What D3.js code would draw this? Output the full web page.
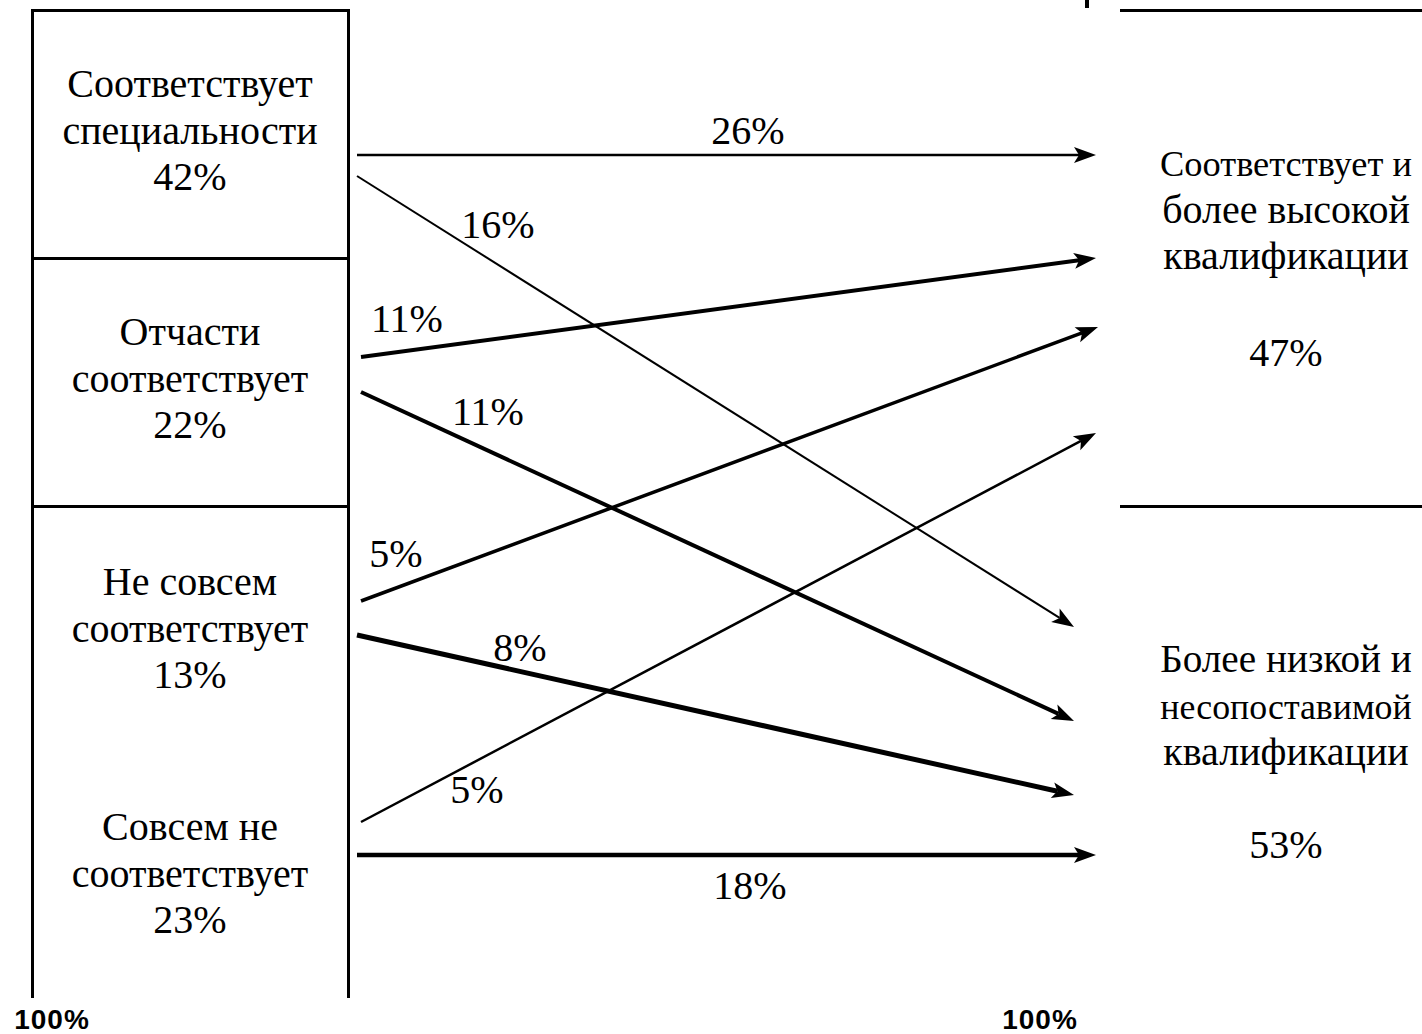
<!DOCTYPE html>
<html>
<head>
<meta charset="utf-8">
<script src="https://cdn.jsdelivr.net/npm/d3@7"></script>
<style>
  html, body { margin: 0; padding: 0; background: #fff; }
  svg { display: block; }
  text { font-family: "Liberation Serif", "Times New Roman", serif; fill: #000; }
</style>
</head>
<body>
<script>
// ---------------- DATA ----------------
const sourceLabels = [
  ["Соответствует", "специальности"],
  ["Отчасти", "соответствует"],
  ["Не совсем", "соответствует"],
  ["Совсем не", "соответствует"]
];
const sourceShares = [42, 22, 13, 23];

const targetLabels = [
  ["Соответствует и", "более высокой", "квалификации"],
  ["Более низкой и", "несопоставимой", "квалификации"]
];
const targetShares = [47, 53];

// flows: source index, target index, percentage
const flowSource = [0, 0, 1, 1, 2, 2, 3, 3];
const flowTarget = [0, 1, 0, 1, 0, 1, 0, 1];
const flowValues = [26, 16, 11, 11, 5, 8, 5, 18];

const totalLabel = "100%";

// ---------------- LAYOUT ----------------
const W = 1422, H = 1034;
const flowIds = flowValues.map((d, i) => i);

// vertical slots of arrows (start / end), widths, label anchors
const yStart = d3.scaleOrdinal().domain(flowIds).range([155, 176, 357, 392, 601, 635, 822, 855]);
const yEnd   = d3.scaleOrdinal().domain(flowIds).range([155, 627, 258, 721, 327, 795, 433, 855]);
const xStart = d3.scaleOrdinal().domain(flowIds).range([357, 357, 361, 361, 361, 357, 361, 357]);
const xEnd   = d3.scaleOrdinal().domain(flowIds).range([1096, 1074, 1096, 1074, 1098, 1074, 1096, 1096]);
const strokeW = d3.scaleOrdinal().domain(flowIds).range([2.5, 2, 4, 4, 3.5, 5, 2.5, 4.5]);
const labelX = d3.scaleOrdinal().domain(flowIds).range([748, 498, 407, 488, 396, 520, 477, 750]);
const labelY = d3.scaleOrdinal().domain(flowIds).range([144, 238, 332, 425, 567, 661, 803, 899]);

// left boxes
const boxLeft = 32, boxRight = 348, boxTop = 10, boxBottom = 998;
const boxDividers = [258, 506];
const srcCenterX = (boxLeft + boxRight) / 2;
const srcFirstBaseline = d3.scaleOrdinal().domain([0, 1, 2, 3]).range([97, 345, 595, 840]);
const lineStep = 46.5;

// right side
const tgtCenterX = 1286;
const tgtFirstBaseline = d3.scaleOrdinal().domain([0, 1]).range([176, 672]);
const tgtShareBaseline = d3.scaleOrdinal().domain([0, 1]).range([366, 858]);
const rightLines = [10, 506];
const rightMaxHalfWidth = W - 10 - tgtCenterX;

const svg = d3.select("body").append("svg")
  .attr("width", W).attr("height", H)
  .attr("viewBox", `0 0 ${W} ${H}`);

svg.append("rect").attr("width", W).attr("height", H).attr("fill", "#fff");

// ---- left box frame
const frame = svg.append("g").attr("stroke", "#000").attr("stroke-width", 3)
  .attr("shape-rendering", "crispEdges").attr("fill", "none");
frame.append("line").attr("x1", boxLeft).attr("x2", boxLeft).attr("y1", boxTop - 1.5).attr("y2", boxBottom);
frame.append("line").attr("x1", boxRight).attr("x2", boxRight).attr("y1", boxTop - 1.5).attr("y2", boxBottom);
frame.append("line").attr("x1", boxLeft).attr("x2", boxRight).attr("y1", boxTop).attr("y2", boxTop);
frame.selectAll("line.div").data(boxDividers).join("line").attr("class", "div")
  .attr("x1", boxLeft).attr("x2", boxRight).attr("y1", d => d).attr("y2", d => d);

// ---- right separators
frame.selectAll("line.rsep").data(rightLines).join("line").attr("class", "rsep")
  .attr("x1", 1120).attr("x2", W).attr("y1", d => d).attr("y2", d => d);
// little cut-off mark at top
svg.append("rect").attr("x", 1085).attr("y", 0).attr("width", 4).attr("height", 8).attr("fill", "#000");

// ---- source labels
sourceLabels.forEach((lines, i) => {
  const all = lines.concat([sourceShares[i] + "%"]);
  svg.append("g").selectAll("text").data(all).join("text")
    .attr("x", srcCenterX)
    .attr("y", (d, k) => srcFirstBaseline(i) + k * lineStep)
    .attr("text-anchor", "middle")
    .attr("font-size", 40)
    .text(d => d);
});

// ---- target labels (shrunk to stay inside the right edge)
targetLabels.forEach((lines, i) => {
  svg.append("g").selectAll("text").data(lines).join("text")
    .attr("x", tgtCenterX)
    .attr("y", (d, k) => tgtFirstBaseline(i) + k * lineStep)
    .attr("text-anchor", "middle")
    .attr("font-size", 40)
    .text(d => d)
    .each(function () {
      const w = this.getComputedTextLength();
      if (w / 2 > rightMaxHalfWidth) {
        d3.select(this).attr("font-size", Math.floor(40 * (rightMaxHalfWidth * 2) / w * 10) / 10);
      }
    });
  svg.append("text")
    .attr("x", tgtCenterX)
    .attr("y", tgtShareBaseline(i))
    .attr("text-anchor", "middle")
    .attr("font-size", 40)
    .text(targetShares[i] + "%");
});

// ---- arrows
const headLen = 22, headHalf = 8, notch = 5;
const arrows = svg.append("g");
flowIds.forEach(i => {
  const x1 = xStart(i), y1 = yStart(i), x2 = xEnd(i), y2 = yEnd(i);
  const dx = x2 - x1, dy = y2 - y1, L = Math.hypot(dx, dy);
  const ux = dx / L, uy = dy / L, px = -uy, py = ux;
  const bx = x2 - ux * headLen, by = y2 - uy * headLen;
  const nx = x2 - ux * (headLen - notch), ny = y2 - uy * (headLen - notch);
  arrows.append("line")
    .attr("x1", x1).attr("y1", y1).attr("x2", nx).attr("y2", ny)
    .attr("stroke", "#000").attr("stroke-width", strokeW(i));
  const head = d3.path();
  head.moveTo(x2, y2);
  head.lineTo(bx + px * headHalf, by + py * headHalf);
  head.lineTo(nx, ny);
  head.lineTo(bx - px * headHalf, by - py * headHalf);
  head.closePath();
  arrows.append("path").attr("d", head.toString()).attr("fill", "#000");
  svg.append("text")
    .attr("x", labelX(i)).attr("y", labelY(i))
    .attr("text-anchor", "middle").attr("font-size", 40)
    .text(flowValues[i] + "%");
});

// ---- 100% totals
svg.selectAll("text.total").data([52, 1040]).join("text").attr("class", "total")
  .attr("x", d => d).attr("y", 1029)
  .attr("text-anchor", "middle")
  .style("font-family", "'Liberation Sans', Arial, sans-serif")
  .attr("font-weight", "bold").attr("font-size", 28)
  .attr("letter-spacing", 1)
  .text(totalLabel);
</script>
</body>
</html>
